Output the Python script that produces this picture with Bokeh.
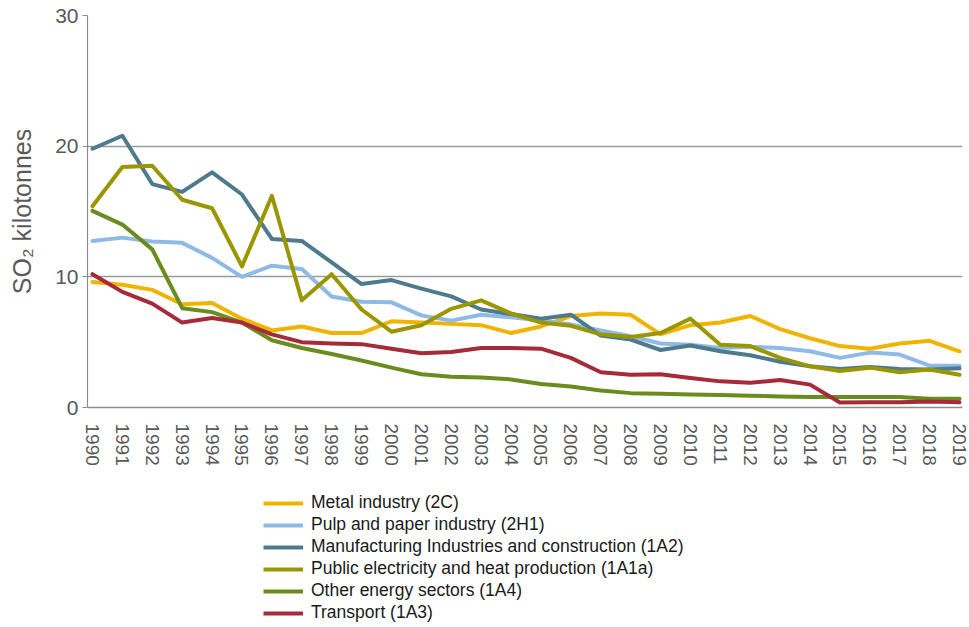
from bokeh.plotting import figure
from bokeh.models import Legend, LegendItem, FixedTicker, Range1d
from bokeh.layouts import column
from bokeh.embed import file_html
from bokeh.resources import INLINE

years = list(range(1990, 2020))
year_labels = [str(y) for y in years]

metal = [9.6, 9.4, 9.0, 7.9, 8.0, 6.8, 5.9, 6.2, 5.7, 5.7, 6.6, 6.5, 6.4, 6.3, 5.7,
         6.2, 7.0, 7.2, 7.1, 5.6, 6.3, 6.5, 7.0, 6.0, 5.3, 4.7, 4.5, 4.9, 5.1, 4.3]
pulp = [12.75, 13.0, 12.7, 12.6, 11.45, 10.0, 10.85, 10.6, 8.5, 8.1, 8.05, 7.05, 6.65, 7.1, 6.9,
        6.65, 6.35, 5.9, 5.45, 4.9, 4.8, 4.55, 4.65, 4.55, 4.3, 3.8, 4.2, 4.05, 3.2, 3.2]
manuf = [19.8, 20.8, 17.1, 16.5, 18.0, 16.3, 12.9, 12.75, 11.1, 9.45, 9.75, 9.1, 8.5, 7.5, 7.15,
         6.8, 7.1, 5.5, 5.2, 4.4, 4.75, 4.3, 4.0, 3.5, 3.15, 2.95, 3.1, 2.95, 2.9, 3.0]
public = [15.4, 18.4, 18.5, 15.9, 15.25, 10.8, 16.2, 8.2, 10.2, 7.5, 5.8, 6.3, 7.55, 8.2, 7.2,
          6.5, 6.25, 5.6, 5.4, 5.7, 6.8, 4.8, 4.7, 3.8, 3.15, 2.8, 3.05, 2.7, 2.9, 2.5]
other = [15.05, 14.0, 12.1, 7.6, 7.3, 6.5, 5.15, 4.55, 4.1, 3.6, 3.05, 2.55, 2.35, 2.3, 2.15,
         1.8, 1.6, 1.3, 1.1, 1.05, 1.0, 0.95, 0.9, 0.85, 0.8, 0.8, 0.8, 0.8, 0.67, 0.67]
transport = [10.2, 8.85, 7.95, 6.5, 6.85, 6.5, 5.6, 5.0, 4.9, 4.85, 4.5, 4.15, 4.25, 4.55, 4.55,
             4.5, 3.8, 2.7, 2.5, 2.55, 2.25, 2.0, 1.9, 2.1, 1.75, 0.38, 0.4, 0.4, 0.45, 0.4]

series_names = [
    "Metal industry (2C)",
    "Pulp and paper industry (2H1)",
    "Manufacturing Industries and construction (1A2)",
    "Public electricity and heat production (1A1a)",
    "Other energy sectors (1A4)",
    "Transport (1A3)",
]
series_values = [metal, pulp, manuf, public, other, transport]
series_colors = ["#F0B400", "#8EBAE5", "#4E7A8D", "#9A9600", "#6A8C1E", "#A52A3A"]

y_ticks = [0, 10, 20, 30]

FONT = "Liberation Sans"
GRAY = "#595959"

# ---- main chart ----
p = figure(width=969, height=470, output_backend="svg", toolbar_location=None,
           x_range=Range1d(1989.833, 2019.1), y_range=Range1d(0, 30),
           min_border_left=87, min_border_top=15, min_border_bottom=63, min_border_right=7)
p.outline_line_color = None
p.background_fill_color = "white"
p.border_fill_color = "white"

for vals, col in zip(series_values, series_colors):
    p.line(years, vals, line_color=col, line_width=4, line_join="round", line_cap="round")

p.xaxis.ticker = FixedTicker(ticks=years)
p.xaxis.major_label_overrides = {y: s for y, s in zip(years, year_labels)}
p.xaxis.major_label_orientation = "vertical"
p.xaxis.major_tick_out = 0
p.xaxis.major_tick_in = 0
p.xaxis.minor_tick_line_color = None
p.xaxis.major_label_standoff = 16
p.xaxis.major_label_text_font = FONT
p.xaxis.major_label_text_font_size = "19px"
p.xaxis.major_label_text_color = GRAY
p.xaxis.axis_line_color = "#8c8c8c"
p.xaxis.axis_line_width = 1.5

p.yaxis.ticker = FixedTicker(ticks=y_ticks)
p.yaxis.major_tick_out = 5
p.yaxis.major_tick_in = 0
p.yaxis.major_tick_line_color = "#8c8c8c"
p.yaxis.minor_tick_line_color = None
p.yaxis.major_label_standoff = 4
p.yaxis.major_label_text_font = FONT
p.yaxis.major_label_text_font_size = "21px"
p.yaxis.major_label_text_color = GRAY
p.yaxis.axis_line_color = "#8c8c8c"
p.yaxis.axis_line_width = 1.2
p.yaxis.axis_label = "SO\u2082 kilotonnes"
p.yaxis.axis_label_text_font = FONT
p.yaxis.axis_label_text_font_size = "25px"
p.yaxis.axis_label_text_font_style = "normal"
p.yaxis.axis_label_text_color = GRAY
p.yaxis.axis_label_standoff = 16

p.xgrid.grid_line_color = None
p.ygrid.grid_line_color = "#9a9a9a"
p.ygrid.grid_line_width = 1.5

# ---- legend strip (same series; lines fall outside its empty frame) ----
lg = figure(width=969, height=157, output_backend="svg", toolbar_location=None,
            x_range=Range1d(0, 1), y_range=Range1d(0, 1),
            min_border_left=0, min_border_top=0, min_border_bottom=0, min_border_right=0)
lg.outline_line_color = None
lg.axis.visible = False
lg.grid.grid_line_color = None

items = []
for name, vals, col in zip(series_names, series_values, series_colors):
    r = lg.line(years, vals, line_color=col, line_width=4)
    items.append(LegendItem(label=name, renderers=[r]))

legend = Legend(items=items, location=(176, 4), orientation="vertical",
                padding=0, margin=0, spacing=1,
                glyph_width=40, glyph_height=18, label_height=18,
                label_standoff=8,
                label_text_font=FONT, label_text_font_size="17.5px",
                label_text_color="#1a1a1a",
                border_line_color=None, background_fill_alpha=0)
lg.add_layout(legend, "center")

layout = column(p, lg, spacing=0)
open("out.html", "w").write(file_html(layout, INLINE))
